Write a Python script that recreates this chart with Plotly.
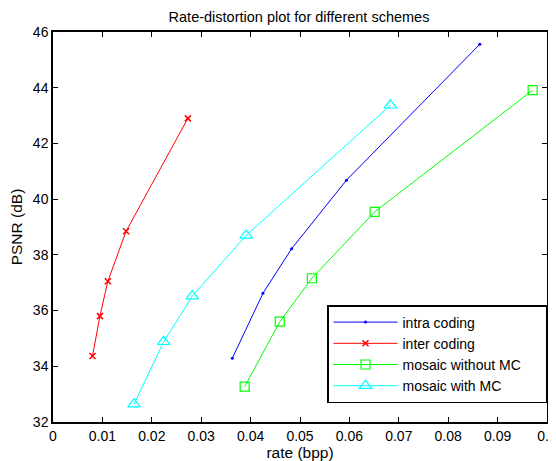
import plotly.graph_objects as go

# Data
intra_rate = [0.0363, 0.0425, 0.0483, 0.0594, 0.0864]
intra_psnr = [34.29, 36.62, 38.22, 40.68, 45.56]

inter_rate = [0.0080, 0.0095, 0.0111, 0.0148, 0.0273]
inter_psnr = [34.37, 35.80, 37.05, 38.85, 42.90]

mosaic_nomc_rate = [0.0388, 0.0459, 0.0524, 0.0651, 0.0971]
mosaic_nomc_psnr = [33.27, 35.60, 37.16, 39.54, 43.91]

mosaic_mc_rate = [0.0164, 0.0224, 0.0282, 0.0391, 0.0683]
mosaic_mc_psnr = [32.64, 34.88, 36.52, 38.70, 43.37]

series_names = ["intra coding", "inter coding", "mosaic without MC", "mosaic with MC"]

x_ticks = [0, 0.01, 0.02, 0.03, 0.04, 0.05, 0.06, 0.07, 0.08, 0.09, 0.1]
x_tick_labels = ["0", "0.01", "0.02", "0.03", "0.04", "0.05", "0.06", "0.07", "0.08", "0.09", "0.1"]
y_ticks = [32, 34, 36, 38, 40, 42, 44, 46]

pad = "\u00a0" * 5  # invisible padding to widen the legend box

fig = go.Figure()
fig.add_trace(go.Scatter(x=intra_rate, y=intra_psnr, mode="lines+markers", name=series_names[0] + pad,
                         line=dict(color="#0000FF", width=1),
                         marker=dict(symbol="circle", size=3, color="#0000FF")))
fig.add_trace(go.Scatter(x=inter_rate, y=inter_psnr, mode="lines+markers", name=series_names[1] + pad,
                         line=dict(color="#FF0000", width=1),
                         marker=dict(symbol="x-thin", size=6, color="#FF0000",
                                     line=dict(color="#FF0000", width=1.5))))
fig.add_trace(go.Scatter(x=mosaic_nomc_rate, y=mosaic_nomc_psnr, mode="lines+markers", name=series_names[2] + pad,
                         line=dict(color="#00FF00", width=1),
                         marker=dict(symbol="square-open", size=9, color="#00FF00",
                                     line=dict(color="#00FF00", width=1.2))))
fig.add_trace(go.Scatter(x=mosaic_mc_rate, y=mosaic_mc_psnr, mode="lines+markers", name=series_names[3] + pad,
                         line=dict(color="#00FFFF", width=1),
                         marker=dict(symbol="triangle-up-open", size=11, color="#00FFFF",
                                     line=dict(color="#00FFFF", width=1.2))))

# The page body adds an 8px offset, so the figure is 548x453 and positions are shifted by 8px
W, H = 548, 453
L, R, T, B = 45, 9, 24, 39
plot_w = W - L - R
plot_h = H - T - B

font_family = "Liberation Sans, Arial, sans-serif"
fig.update_layout(
    width=W, height=H,
    margin=dict(l=L, r=R, t=T, b=B, autoexpand=False),
    paper_bgcolor="white", plot_bgcolor="white",
    font=dict(family=font_family, size=14, color="black"),
    title=dict(text="Rate-distortion plot for different schemes", x=291 / W, xanchor="center",
               y=1 - 8.5 / H, yanchor="middle", font=dict(size=14.5)),
    showlegend=True,
    legend=dict(x=(319 - L) / plot_w, y=(T + plot_h - 297) / plot_h, xanchor="left", yanchor="top",
                bordercolor="black", borderwidth=1.5, bgcolor="white", itemwidth=64,
                font=dict(size=14), tracegroupgap=0),
)
fig.update_xaxes(range=[0, 0.1], tickvals=x_ticks, ticktext=x_tick_labels, automargin=False,
                 showline=True, linecolor="black", linewidth=1.5, mirror="ticks",
                 ticks="inside", ticklen=5, tickcolor="black", showgrid=False, zeroline=False,
                 ticklabeloverflow="allow",
                 title=dict(text="rate (bpp)", standoff=3, font=dict(size=15.5)), tickfont=dict(size=14))
fig.update_yaxes(range=[32, 46], tickvals=y_ticks, automargin=False,
                 showline=True, linecolor="black", linewidth=1.5, mirror="ticks",
                 ticks="inside", ticklen=5, tickcolor="black", showgrid=False, zeroline=False,
                 title=dict(text="PSNR (dB)", standoff=8, font=dict(size=15.5)), tickfont=dict(size=14))

fig.write_html("out.html")
